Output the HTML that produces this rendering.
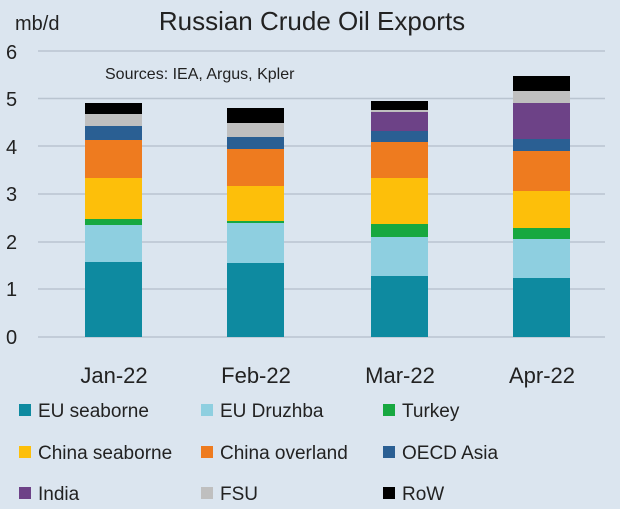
<!DOCTYPE html>
<html><head><style>
body{margin:0;background:#dbe5ef;}
svg{display:block;font-family:"Liberation Sans",sans-serif;}
</style></head><body>
<svg width="620" height="509" viewBox="0 0 620 509">
<rect width="620" height="509" fill="#dbe5ef"/>
<text x="15" y="30" font-size="20" fill="#222">mb/d</text>
<text x="312" y="30" font-size="26" fill="#222" text-anchor="middle">Russian Crude Oil Exports</text>
<g stroke="#b9c4d0" stroke-width="1.5">
<line x1="38" x2="605" y1="51" y2="51"/><line x1="38" x2="605" y1="98.5" y2="98.5"/>
<line x1="38" x2="605" y1="146" y2="146"/><line x1="38" x2="605" y1="194" y2="194"/>
<line x1="38" x2="605" y1="242" y2="242"/><line x1="38" x2="605" y1="289" y2="289"/>
<line x1="38" x2="605" y1="337" y2="337"/>
</g>
<g font-size="20" fill="#222">
<text x="6" y="59">6</text><text x="6" y="106">5</text><text x="6" y="154">4</text>
<text x="6" y="201">3</text><text x="6" y="249">2</text><text x="6" y="296">1</text><text x="6" y="344">0</text>
</g>
<text x="105" y="79" font-size="16" fill="#222">Sources: IEA, Argus, Kpler</text>
<g>
<rect x="85" y="262" width="57" height="75" fill="#0e8aa0"/>
<rect x="85" y="225" width="57" height="37" fill="#8ecfe0"/>
<rect x="85" y="219" width="57" height="6" fill="#17a840"/>
<rect x="85" y="178" width="57" height="41" fill="#fdbf0a"/>
<rect x="85" y="140" width="57" height="38" fill="#ee7b1f"/>
<rect x="85" y="126" width="57" height="14" fill="#2a5f93"/>
<rect x="85" y="114" width="57" height="12" fill="#bfbfbf"/>
<rect x="85" y="103" width="57" height="11" fill="#000"/>
</g>
<g>
<rect x="227" y="263" width="57" height="74" fill="#0e8aa0"/>
<rect x="227" y="223" width="57" height="40" fill="#8ecfe0"/>
<rect x="227" y="221" width="57" height="2" fill="#17a840"/>
<rect x="227" y="186" width="57" height="35" fill="#fdbf0a"/>
<rect x="227" y="149" width="57" height="37" fill="#ee7b1f"/>
<rect x="227" y="137" width="57" height="12" fill="#2a5f93"/>
<rect x="227" y="123" width="57" height="14" fill="#bfbfbf"/>
<rect x="227" y="108" width="57" height="15" fill="#000"/>
</g>
<g>
<rect x="371" y="276" width="57" height="61" fill="#0e8aa0"/>
<rect x="371" y="237" width="57" height="39" fill="#8ecfe0"/>
<rect x="371" y="224" width="57" height="13" fill="#17a840"/>
<rect x="371" y="178" width="57" height="46" fill="#fdbf0a"/>
<rect x="371" y="142" width="57" height="36" fill="#ee7b1f"/>
<rect x="371" y="131" width="57" height="11" fill="#2a5f93"/>
<rect x="371" y="112" width="57" height="19" fill="#6d4287"/>
<rect x="371" y="110" width="57" height="2" fill="#bfbfbf"/>
<rect x="371" y="101" width="57" height="9" fill="#000"/>
</g>
<g>
<rect x="513" y="278" width="57" height="59" fill="#0e8aa0"/>
<rect x="513" y="239" width="57" height="39" fill="#8ecfe0"/>
<rect x="513" y="228" width="57" height="11" fill="#17a840"/>
<rect x="513" y="191" width="57" height="37" fill="#fdbf0a"/>
<rect x="513" y="151" width="57" height="40" fill="#ee7b1f"/>
<rect x="513" y="139" width="57" height="12" fill="#2a5f93"/>
<rect x="513" y="103" width="57" height="36" fill="#6d4287"/>
<rect x="513" y="91" width="57" height="12" fill="#bfbfbf"/>
<rect x="513" y="76" width="57" height="15" fill="#000"/>
</g>
<g font-size="22" fill="#222" text-anchor="middle">
<text x="114" y="383">Jan-22</text><text x="256" y="383">Feb-22</text>
<text x="400" y="383">Mar-22</text><text x="542" y="383">Apr-22</text>
</g>
<g font-size="19" fill="#222">
<rect x="19" y="404" width="12" height="12" fill="#0e8aa0"/><text x="38" y="417">EU seaborne</text>
<rect x="201" y="404" width="12" height="12" fill="#8ecfe0"/><text x="220" y="417">EU Druzhba</text>
<rect x="383" y="404" width="12" height="12" fill="#17a840"/><text x="402" y="417">Turkey</text>
<rect x="19" y="446" width="12" height="12" fill="#fdbf0a"/><text x="38" y="459">China seaborne</text>
<rect x="201" y="446" width="12" height="12" fill="#ee7b1f"/><text x="220" y="459">China overland</text>
<rect x="383" y="446" width="12" height="12" fill="#2a5f93"/><text x="402" y="459">OECD Asia</text>
<rect x="19" y="487" width="12" height="12" fill="#6d4287"/><text x="38" y="500">India</text>
<rect x="201" y="487" width="12" height="12" fill="#bfbfbf"/><text x="220" y="500">FSU</text>
<rect x="383" y="487" width="12" height="12" fill="#000"/><text x="402" y="500">RoW</text>
</g>
</svg>
</body></html>
